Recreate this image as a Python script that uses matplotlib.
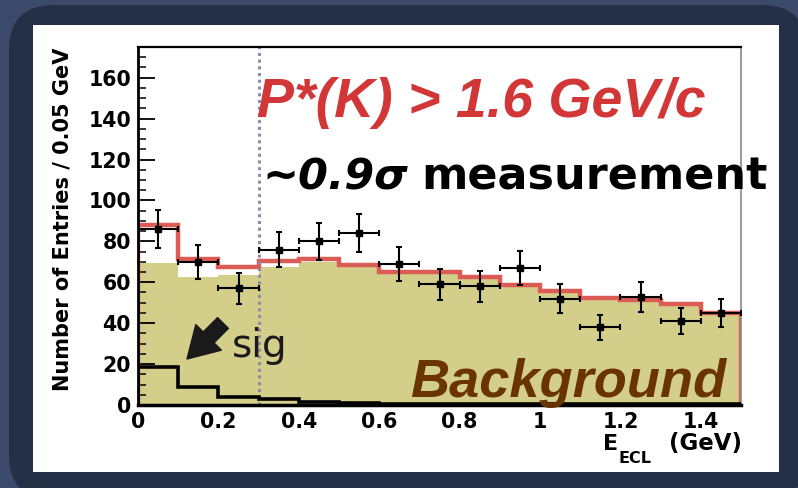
import matplotlib.pyplot as plt
import numpy as np
from matplotlib.patches import FancyBboxPatch, FancyArrowPatch

W, H = 798, 488

# E_ECL histogram, 0.1 GeV bins
edges = np.round(np.arange(0, 1.51, 0.1), 2)
centres = edges[:-1] + 0.05
counts = [86, 70, 57, 76, 80, 84, 69, 59, 58, 67, 52, 38, 53, 41, 45]
errors = [9.3, 8.4, 7.5, 8.7, 8.9, 9.2, 8.3, 7.7, 7.6, 8.2, 7.2, 6.2, 7.3, 6.4, 6.7]
bkg = [69.5, 62.5, 63.5, 67.5, 70.0, 67.3, 64.3, 64.4, 61.9, 58.0, 55.4, 51.9, 51.1, 49.1, 44.7]
sig = [18.5, 9.0, 4.0, 3.0, 1.5, 1.0, 0.7, 0.6, 0.5, 0.5, 0.4, 0.4, 0.3, 0.3, 0.3]
total = np.add(bkg, sig)

xticks = [0, 0.2, 0.4, 0.6, 0.8, 1.0, 1.2, 1.4]
xticklabels = ['0', '0.2', '0.4', '0.6', '0.8', '1', '1.2', '1.4']
yticks = [0, 20, 40, 60, 80, 100, 120, 140, 160]


def px(x, y):
    # pixel position (from top-left) -> figure fraction
    return x / W, 1 - y / H


def inch(x, y):
    return x / 100, (H - y) / 100


fig = plt.figure(figsize=(W / 100, H / 100), dpi=100, facecolor='#3b4a6a')

# slide frame and white panel
frame = FancyBboxPatch(inch(9, 500), 7.98, 4.95, boxstyle='round,pad=0,rounding_size=0.45',
                       transform=fig.dpi_scale_trans, fc='#252f46', ec='none', zorder=-3)
panel = FancyBboxPatch(inch(33, 472), 7.46, 4.47, boxstyle='square,pad=0',
                       transform=fig.dpi_scale_trans, fc='white', ec='none', zorder=-2)
fig.add_artist(frame)
fig.add_artist(panel)

ax = fig.add_axes([138 / W, (H - 405) / H, 603 / W, 358 / H])
ax.set_facecolor('white')

ax.stairs(bkg, edges, fill=True, color='#d3ce8a', zorder=1)
ax.stairs(total, edges, color='#dc5b55', lw=3.2, zorder=2)
ax.stairs(sig, edges, color='black', lw=2.6, zorder=3)
ax.axvline(0.3, color='#8c8cab', ls=(0, (1, 1.2)), lw=2.2, zorder=2.5)
ax.errorbar(centres, counts, yerr=errors, xerr=0.05, fmt='s', color='black', ms=5,
            lw=1.5, capsize=2.5, capthick=1.5, zorder=4)

ax.set_xlim(0, 1.5)
ax.set_ylim(0, 175)
ax.set_xticks(xticks)
ax.set_xticklabels(xticklabels)
ax.set_yticks(yticks)
ax.set_yticks(np.arange(0, 176, 5), minor=True)
ax.tick_params(axis='x', length=0, pad=5)
ax.tick_params(axis='y', which='major', direction='in', length=12, width=1.3, pad=5)
ax.tick_params(axis='y', which='minor', direction='in', length=6, width=1.1)
for lab in ax.get_xticklabels() + ax.get_yticklabels():
    lab.set_fontfamily('DejaVu Sans')
    lab.set_fontweight('bold')
    lab.set_fontsize(14.8)

ax.spines['left'].set_linewidth(2)
ax.spines['bottom'].set_linewidth(2.5)
ax.spines['top'].set_linewidth(1.6)
ax.spines['right'].set_color('#888888')
ax.spines['right'].set_linewidth(1.2)

# axis titles
fig.text(*px(63, 219), 'Number of Entries / 0.05 GeV', rotation=90, ha='center', va='center',
         fontfamily='DejaVu Sans', fontweight='bold', fontsize=15)
fig.text(*px(603, 450), 'E', ha='left', va='baseline',
         fontfamily='DejaVu Sans', fontweight='bold', fontsize=16)
fig.text(*px(618, 463), 'ECL', ha='left', va='baseline',
         fontfamily='DejaVu Sans', fontweight='bold', fontsize=11.5)
fig.text(*px(742, 450), '(GeV)', ha='right', va='baseline',
         fontfamily='DejaVu Sans', fontweight='bold', fontsize=16.5)

# slide annotations
fig.text(*px(257, 117), 'P*(K) > 1.6 GeV/c', color='#d23636', ha='left', va='baseline',
         fontfamily='Liberation Sans', fontweight='bold', fontstyle='italic', fontsize=40)
fig.text(*px(262, 190), '~0.9σ', color='black', ha='left', va='baseline',
         fontfamily='DejaVu Sans', fontweight='bold', fontstyle='italic', fontsize=31)
fig.text(*px(421, 190), 'measurement', color='black', ha='left', va='baseline',
         fontfamily='DejaVu Sans', fontweight='bold', fontsize=32)
fig.text(*px(410, 397), 'Background', color='#6a3400', ha='left', va='baseline',
         fontfamily='Liberation Sans', fontweight='bold', fontstyle='italic', fontsize=39)
fig.text(*px(232, 357), 'sig', color='#1a1a1a', ha='left', va='baseline',
         fontfamily='DejaVu Sans', fontsize=28)
arrow = FancyArrowPatch(inch(223, 323), inch(187, 359), transform=fig.dpi_scale_trans,
                        arrowstyle='simple,head_length=1.1,head_width=1.3,tail_width=0.55',
                        mutation_scale=20, color='#1a1a1a', shrinkA=0, shrinkB=0, zorder=5)
fig.add_artist(arrow)

fig.savefig('out.png', dpi=100, facecolor=fig.get_facecolor())
